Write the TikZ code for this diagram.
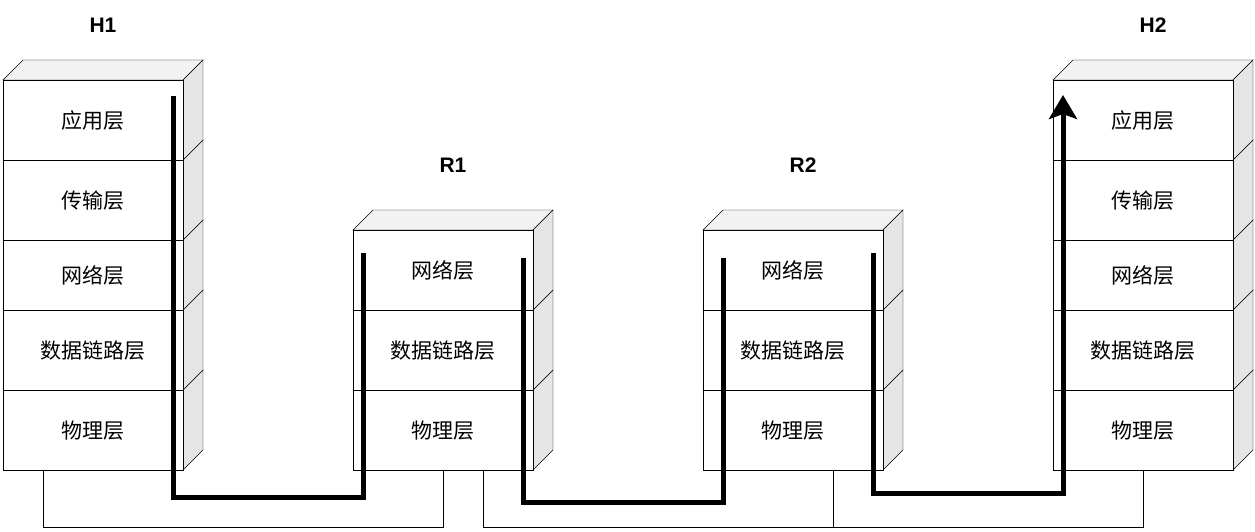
\documentclass[tikz,border=0pt]{standalone}
\usepackage{fontspec}
\setmainfont{Liberation Sans}
\newfontfamily\cjk{Noto Sans CJK SC}
\usetikzlibrary{arrows.meta}
\tikzset{layer/.style={draw, fill=white, minimum width=180pt, inner sep=0pt, font=\cjk\fontsize{21}{21}\selectfont, anchor=north west}}
\tikzset{side/.style={draw, fill=gray!20}}
\tikzset{topface/.style={draw, fill=gray!10}}
\tikzset{title/.style={font=\bfseries\fontsize{21}{21}\selectfont}}
\tikzset{flow/.style={line width=5pt}}
\tikzset{cable/.style={line width=1pt}}
% #1 name, #2 x, #3 top y, #4 height, #5 text
\newcommand{\layerbox}[5]{
\fill[white] (#2,#3) rectangle ++(180,#4);
\draw[topface] (#2,#3) -- ++(20,-20) -- ++(180,0) -- ++(-20,20) -- cycle;
\draw[side] (#2+180,#3) -- ++(20,-20) -- ++(0,#4) -- ++(-20,20) -- cycle;
\node[layer, minimum height=#4 pt] (#1) at (#2,#3) {#5};
}
\begin{document}
\begin{tikzpicture}[x=1pt,y=-1pt]
\useasboundingbox (0,0) rectangle (1255,532);
% H1
\layerbox{h1p}{3}{390}{80}{物理层}
\layerbox{h1d}{3}{310}{80}{数据链路层}
\layerbox{h1n}{3}{240}{70}{网络层}
\layerbox{h1t}{3}{160}{80}{传输层}
\layerbox{h1a}{3}{80}{80}{应用层}
\node[title] (h1) at (103,25) {H1};
% R1
\layerbox{r1p}{353}{390}{80}{物理层}
\layerbox{r1d}{353}{310}{80}{数据链路层}
\layerbox{r1n}{353}{230}{80}{网络层}
\node[title] (r1) at (453,165) {R1};
% R2
\layerbox{r2p}{703}{390}{80}{物理层}
\layerbox{r2d}{703}{310}{80}{数据链路层}
\layerbox{r2n}{703}{230}{80}{网络层}
\node[title] (r2) at (803,165) {R2};
% H2
\layerbox{h2p}{1053}{390}{80}{物理层}
\layerbox{h2d}{1053}{310}{80}{数据链路层}
\layerbox{h2n}{1053}{240}{70}{网络层}
\layerbox{h2t}{1053}{160}{80}{传输层}
\layerbox{h2a}{1053}{80}{80}{应用层}
\node[title] (h2) at (1153,25) {H2};
%Cables
\draw[cable] (h1p.south west) ++(40,0) coordinate (c1) -- ++(0,57) -| (r1p.south);
\draw[cable] (r1p.south west) ++(130,0) coordinate (c2) -- ++(0,57) -| ([xshift=40pt]r2p.south);
\draw[cable] (r2p.south west) ++(130,0) coordinate (c3) -- ++(0,57) -| (h2p.south);
%Flow
\coordinate (f1) at (173,96);
\coordinate (f2) at (363,253);
\coordinate (f3) at (523,258);
\coordinate (f4) at (723,258);
\coordinate (f5) at (873,253);
\coordinate (f6) at (1063,95);
\draw[flow] (f1) -- (173,497) -| (f2);
\draw[flow] (f3) -- (523,502) -| (f4);
\draw[flow, -{Stealth[length=24pt,width=28pt,inset=5pt]}] (f5) -- (873,493) -| (f6);
\end{tikzpicture}
\end{document}
